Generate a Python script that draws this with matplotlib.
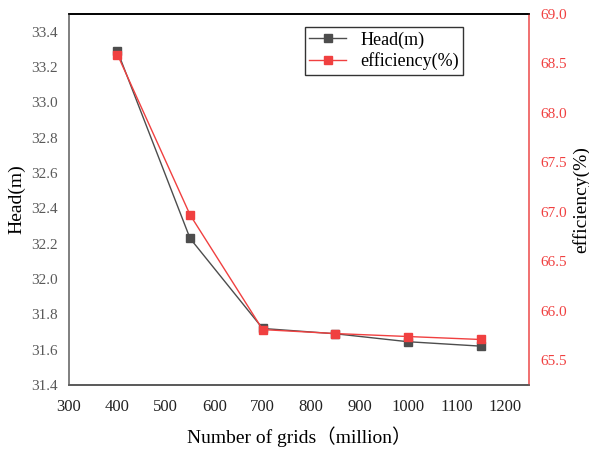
import matplotlib.pyplot as plt

plt.rcParams['font.family'] = ['Liberation Serif', 'Noto Sans CJK SC']

# grid-independence data
grids = [400, 550, 700, 850, 1000, 1150]
head = [33.29, 32.23, 31.72, 31.69, 31.645, 31.62]
efficiency = [68.59, 66.97, 65.81, 65.77, 65.74, 65.71]

head_color = '#4d4d4d'
eff_color = '#f04040'

fig = plt.figure(figsize=(5.89, 4.5), dpi=100)
ax = fig.add_axes([69 / 589, 1 - 385 / 450, 460 / 589, 371 / 450])
ax2 = ax.twinx()

l1, = ax.plot(grids, head, color=head_color, lw=1, marker='s', ms=5.5,
              mfc=head_color, mec=head_color, label='Head(m)')
l2, = ax2.plot(grids, efficiency, color=eff_color, lw=1, marker='s', ms=6,
               mfc=eff_color, mec=eff_color, label='efficiency(%)')

ax.set_xlim(300, 1250)
ax.set_xticks(range(300, 1201, 100))
ax.set_ylim(31.4, 33.5)
ax.set_yticks([31.4 + 0.2 * i for i in range(11)])
ax.set_yticklabels([f'{31.4 + 0.2 * i:.1f}' for i in range(11)])
ax2.set_ylim(65.25, 69.0)
ax2.set_yticks([65.5 + 0.5 * i for i in range(8)])
ax2.set_yticklabels([f'{65.5 + 0.5 * i:.1f}' for i in range(8)])

ax.tick_params(axis='both', length=0)
ax.tick_params(axis='y', labelcolor='#595959', labelsize=11, pad=8)
ax.tick_params(axis='x', labelcolor='#222222', labelsize=12, pad=10)
ax2.tick_params(axis='y', length=0, labelsize=11, labelcolor=eff_color, pad=8)

for a in (ax, ax2):
    a.spines['left'].set_color('#7f7f7f')
    a.spines['bottom'].set_color('#595959')
    a.spines['top'].set_color('black')
    a.spines['right'].set_color('#f07070')
    for s in a.spines.values():
        s.set_linewidth(1.2)

ax.set_xlabel('Number of grids\uff08million\uff09', fontsize=14, labelpad=8)
ax.set_ylabel('Head(m)', fontsize=14, labelpad=4)
ax2.set_ylabel('efficiency(%)', fontsize=14, labelpad=4)

leg = ax2.legend(handles=[l1, l2], loc='upper left', bbox_to_anchor=(0.513, 0.965),
                 fontsize=13, frameon=True, fancybox=False, borderpad=0.25,
                 handlelength=2.0, labelspacing=0.2, borderaxespad=0)
leg.get_frame().set_edgecolor('black')
leg.get_frame().set_linewidth(1)

fig.savefig('out.png', dpi=100)
